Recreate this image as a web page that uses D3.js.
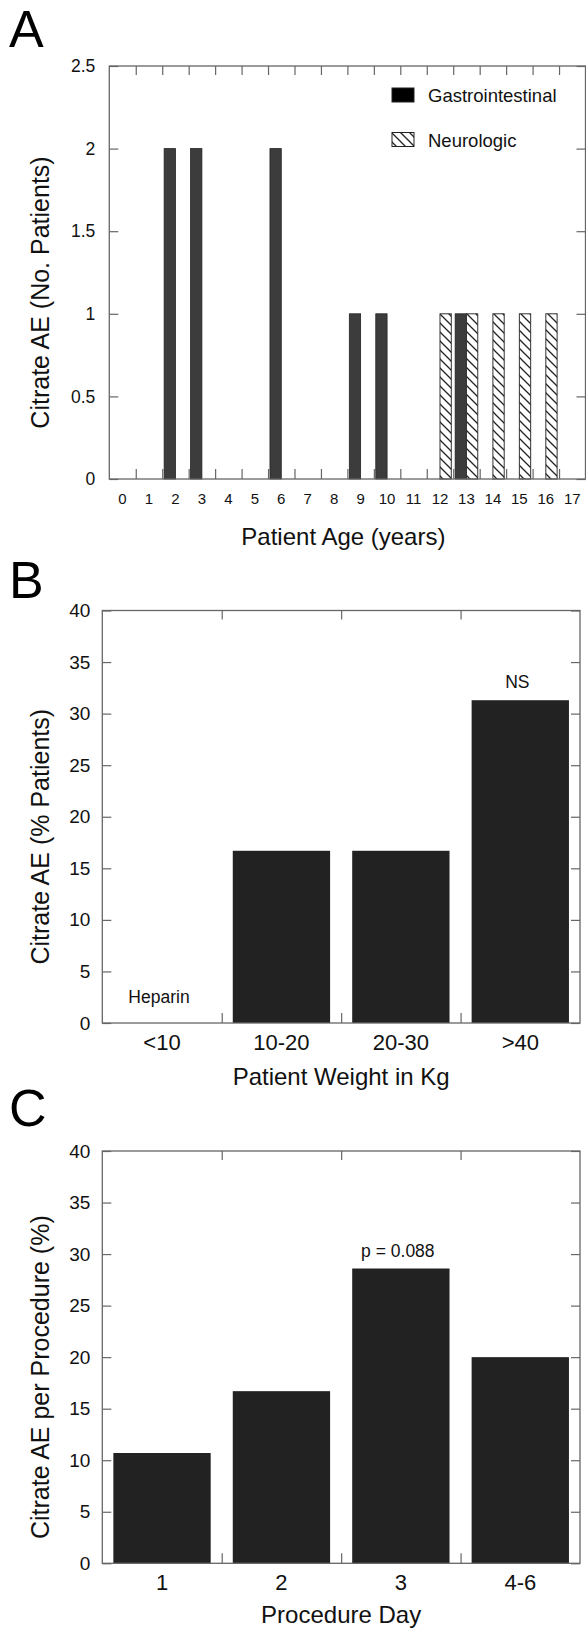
<!DOCTYPE html>
<html>
<head>
<meta charset="utf-8">
<script src="https://cdn.jsdelivr.net/npm/d3@7"></script>
<style>
  body { margin: 0; background: #fff; }
  svg { display: block; font-family: "Liberation Sans", Arial, sans-serif; }
</style>
</head>
<body>
<div id="chart"></div>
<script>
// Panel A: adverse events by patient age
const ages = d3.range(0, 18);
const gastroCounts = [0, 0, 2, 2, 0, 0, 2, 0, 0, 1, 1, 0, 0, 1, 0, 0, 0, 0];
const neuroCounts  = [0, 0, 0, 0, 0, 0, 0, 0, 0, 0, 0, 0, 1, 1, 1, 1, 1, 0];
const ageTicks = [0, 0.5, 1, 1.5, 2, 2.5];

// Panel B: by weight
const weightCats = ['<10', '10-20', '20-30', '>40'];
const weightPct = [0, 16.7, 16.7, 31.3];
const weightNotes = ['Heparin', '', '', 'NS'];

// Panel C: by procedure day
const dayCats = ['1', '2', '3', '4-6'];
const dayPct = [10.7, 16.7, 28.6, 20.0];
const dayNotes = ['', '', 'p = 0.088', ''];

const pctTicks = d3.range(0, 41, 5);

const W = 586, H = 1630;
const frameColor = '#666';

const svg = d3.select('#chart').append('svg')
    .attr('width', W)
    .attr('height', H);

// hatch for neurologic bars
const defs = svg.append('defs');
defs.append('pattern')
    .attr('id', 'hatch')
    .attr('patternUnits', 'userSpaceOnUse')
    .attr('width', 9)
    .attr('height', 9)
    .call(p => {
        p.append('rect').attr('width', 9).attr('height', 9).attr('fill', '#fff');
        p.append('path')
            .attr('d', 'M-1,-1 L10,10 M-1,8 L1,10 M8,-1 L10,1')
            .attr('stroke', '#222')
            .attr('stroke-width', 1.3);
    });

function panelLetter(txt, y) {
    svg.append('text')
        .attr('x', 9)
        .attr('y', y)
        .style('font-size', '52px')
        .style('fill', '#000')
        .text(txt);
}

function frame(g, box) {
    g.append('rect')
        .attr('x', box.left)
        .attr('y', box.top)
        .attr('width', box.right - box.left)
        .attr('height', box.bottom - box.top)
        .attr('fill', 'none')
        .attr('stroke', frameColor)
        .attr('stroke-width', 1.3);
}

function styleAxis(sel, fontSize) {
    sel.select('.domain').remove();
    sel.selectAll('line').attr('stroke', frameColor).attr('stroke-width', 1.2);
    sel.selectAll('text')
        .style('font-size', fontSize + 'px')
        .style('font-family', '"Liberation Sans", Arial, sans-serif')
        .attr('fill', '#111');
}

function yTitle(g, txt, cy) {
    g.append('text')
        .attr('transform', `translate(49,${cy}) rotate(-90)`)
        .attr('text-anchor', 'middle')
        .style('font-size', '25px')
        .style('fill', '#111')
        .text(txt);
}

function xTitle(g, txt, cx, y) {
    g.append('text')
        .attr('x', cx)
        .attr('y', y)
        .attr('text-anchor', 'middle')
        .style('font-size', '24px')
        .style('fill', '#111')
        .text(txt);
}

// ---------------- Panel A ----------------
panelLetter('A', 47);
(function() {
    const box = {left: 109.3, right: 585.5, top: 66, bottom: 479};
    const g = svg.append('g');

    const x = d3.scaleBand().domain(ages).range([box.left, box.right]);
    const xb = d3.scaleLinear().domain([0, ages.length]).range([box.left, box.right]);
    const y = d3.scaleLinear().domain([0, 2.5]).range([box.bottom, box.top]);
    const barW = 11.3;

    const rows = ages.map((a, i) => ({age: a, gastro: gastroCounts[i], neuro: neuroCounts[i]}));

    g.selectAll('rect.gastro')
        .data(rows.filter(d => d.gastro > 0))
        .join('rect')
        .attr('class', 'gastro')
        .attr('x', d => x(d.age) + x.bandwidth() / 2 - barW)
        .attr('y', d => y(d.gastro))
        .attr('width', barW)
        .attr('height', d => y(0) - y(d.gastro))
        .attr('fill', '#3c3c3c')
        .attr('stroke', '#222')
        .attr('stroke-width', 0.8);

    g.selectAll('rect.neuro')
        .data(rows.filter(d => d.neuro > 0))
        .join('rect')
        .attr('class', 'neuro')
        .attr('x', d => x(d.age) + x.bandwidth() / 2)
        .attr('y', d => y(d.neuro))
        .attr('width', barW)
        .attr('height', d => y(0) - y(d.neuro))
        .attr('fill', 'url(#hatch)')
        .attr('stroke', '#333')
        .attr('stroke-width', 1);

    // axes
    g.append('g')
        .attr('transform', `translate(${box.left},0)`)
        .call(d3.axisLeft(y).tickValues(ageTicks).tickSize(-9).tickPadding(14).tickFormat(d => String(d)))
        .call(s => styleAxis(s, 17.5));
    g.append('g')
        .attr('transform', `translate(${box.right},0)`)
        .call(d3.axisRight(y).tickValues(ageTicks).tickSize(-9).tickFormat(''))
        .call(s => styleAxis(s, 17.5));
    g.append('g')
        .attr('transform', `translate(0,${box.bottom})`)
        .call(d3.axisBottom(x).tickSize(0).tickPadding(14))
        .call(s => styleAxis(s, 15));
    g.append('g')
        .attr('transform', `translate(0,${box.bottom})`)
        .call(d3.axisBottom(xb).tickValues(d3.range(1, ages.length)).tickSize(-10).tickFormat(''))
        .call(s => styleAxis(s, 15));
    g.append('g')
        .attr('transform', `translate(0,${box.top})`)
        .call(d3.axisTop(xb).tickValues(d3.range(1, ages.length)).tickSize(-9).tickFormat(''))
        .call(s => styleAxis(s, 15));

    frame(g, box);

    // legend
    const legend = g.append('g').attr('transform', 'translate(392,88)');
    const items = [{name: 'Gastrointestinal', fill: '#000'}, {name: 'Neurologic', fill: 'url(#hatch)'}];
    items.forEach((it, i) => {
        legend.append('rect')
            .attr('x', 0)
            .attr('y', i * 44.5)
            .attr('width', 22)
            .attr('height', 14)
            .attr('fill', it.fill)
            .attr('stroke', '#222')
            .attr('stroke-width', 1);
        legend.append('text')
            .attr('x', 36)
            .attr('y', i * 44.5 + 14)
            .style('font-size', '18.5px')
            .style('fill', '#111')
            .text(it.name);
    });

    yTitle(g, 'Citrate AE (No. Patients)', (box.top + box.bottom) / 2 + 20);
    xTitle(g, 'Patient Age (years)', (box.left + box.right) / 2 - 4, 545);
})();

// ---------------- Panels B & C ----------------
function pctPanel(opts) {
    const box = opts.box;
    const g = svg.append('g');

    const x = d3.scaleBand().domain(opts.cats).range([box.left, box.right])
        .paddingInner(0.185).paddingOuter(0.0925);
    const xb = d3.scaleLinear().domain([0, opts.cats.length]).range([box.left, box.right]);
    const y = d3.scaleLinear().domain([0, 40]).range([box.bottom, box.top]);

    const rows = opts.cats.map((c, i) => ({cat: c, v: opts.values[i], note: opts.notes[i]}));

    g.selectAll('rect.bar')
        .data(rows.filter(d => d.v > 0))
        .join('rect')
        .attr('class', 'bar')
        .attr('x', d => x(d.cat))
        .attr('y', d => y(d.v))
        .attr('width', x.bandwidth())
        .attr('height', d => y(0) - y(d.v))
        .attr('fill', '#222');

    g.selectAll('text.note')
        .data(rows.filter(d => d.note))
        .join('text')
        .attr('class', 'note')
        .attr('x', d => x(d.cat) + x.bandwidth() / 2 - 3)
        .attr('y', d => y(d.v) - (d.v > 0 ? 12 : 20))
        .attr('text-anchor', 'middle')
        .style('font-size', '17.5px')
        .style('fill', '#111')
        .text(d => d.note);

    g.append('g')
        .attr('transform', `translate(${box.left},0)`)
        .call(d3.axisLeft(y).tickValues(pctTicks).tickSize(-9).tickPadding(12))
        .call(s => styleAxis(s, 19));
    g.append('g')
        .attr('transform', `translate(${box.right},0)`)
        .call(d3.axisRight(y).tickValues(pctTicks).tickSize(-9).tickFormat(''))
        .call(s => styleAxis(s, 19));
    g.append('g')
        .attr('transform', `translate(0,${box.bottom})`)
        .call(d3.axisBottom(x).tickSize(0).tickPadding(11))
        .call(s => styleAxis(s, 22));
    g.append('g')
        .attr('transform', `translate(0,${box.bottom})`)
        .call(d3.axisBottom(xb).tickValues(d3.range(1, opts.cats.length)).tickSize(-10).tickFormat(''))
        .call(s => styleAxis(s, 22));
    g.append('g')
        .attr('transform', `translate(0,${box.top})`)
        .call(d3.axisTop(xb).tickValues(d3.range(1, opts.cats.length)).tickSize(-9).tickFormat(''))
        .call(s => styleAxis(s, 22));

    frame(g, box);

    yTitle(g, opts.yLabel, (box.top + box.bottom) / 2 + 20);
    xTitle(g, opts.xLabel, (box.left + box.right) / 2, opts.xLabelY);
}

panelLetter('B', 598);
pctPanel({
    box: {left: 102.3, right: 580, top: 610.5, bottom: 1023},
    cats: weightCats, values: weightPct, notes: weightNotes,
    yLabel: 'Citrate AE (% Patients)', xLabel: 'Patient Weight in Kg', xLabelY: 1085
});

panelLetter('C', 1126);
pctPanel({
    box: {left: 102.3, right: 580, top: 1151, bottom: 1563.3},
    cats: dayCats, values: dayPct, notes: dayNotes,
    yLabel: 'Citrate AE per Procedure (%)', xLabel: 'Procedure Day', xLabelY: 1623
});
</script>
</body>
</html>
